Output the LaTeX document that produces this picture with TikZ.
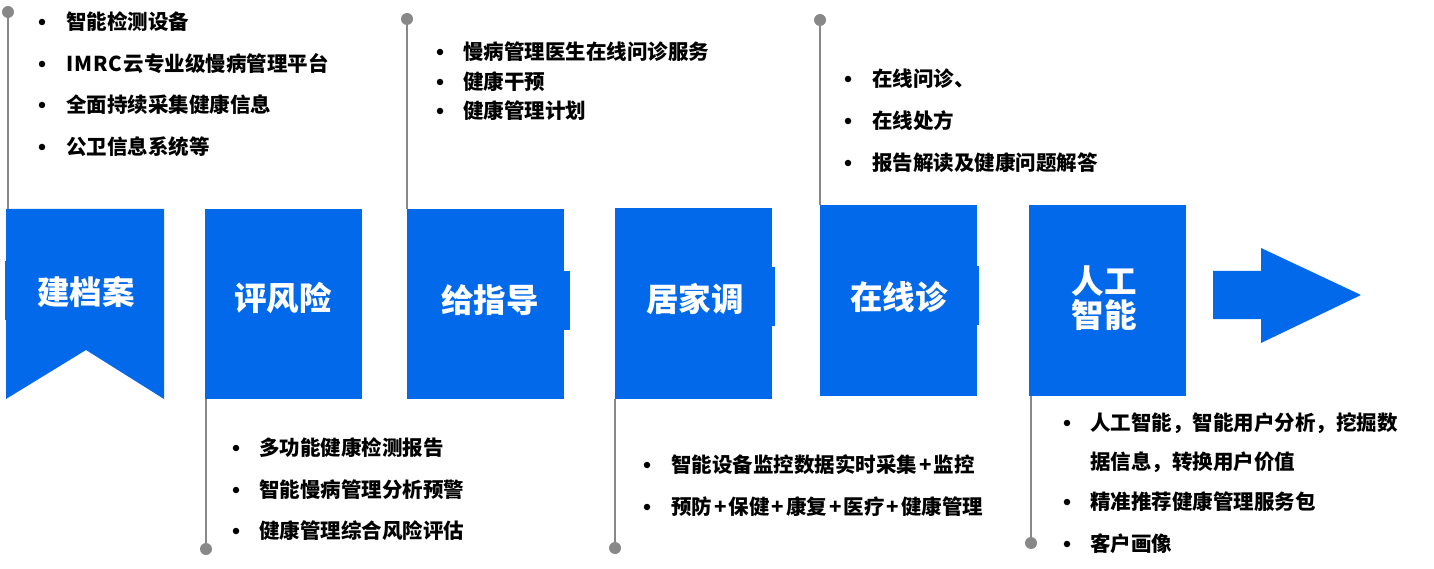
\documentclass[tikz,border=0pt]{standalone}
\usepackage{fontspec}
\setmainfont{Noto Sans CJK SC}
\usetikzlibrary{calc}
\definecolor{mblue}{RGB}{3,105,235}
\definecolor{lgray}{RGB}{136,136,136}
\newcommand{\pls}{\hspace{2pt}+\hspace{2pt}}
\tikzset{
  box/.style={fill=mblue, draw=none, minimum width=157pt, minimum height=190pt, inner sep=0pt},
  boxtext/.style={text=white, font=\fontsize{32.5}{36}\selectfont\bfseries, inner sep=0pt, align=center},
  item/.style={anchor=west, inner sep=0pt, yshift=-3.5pt, text height=0.88em, text depth=0.12em, font=\fontsize{20.5}{24}\selectfont\bfseries},
  bul/.style={fill=black, circle, inner sep=0pt, minimum size=6.5pt},
  dot/.style={fill=lgray, circle, inner sep=0pt, minimum size=12pt},
  conn/.style={draw=lgray, line width=1.8pt},
}
\begin{document}
\begin{tikzpicture}[x=1pt,y=-1pt]
\useasboundingbox (0,0) rectangle (1434,569);
% boxes
\coordinate (b1nw) at (6,209);
\coordinate (b1se) at (164,399);
\fill[mblue] (b1nw) -- (164,209) -- (b1se) -- (86,350) -- (6,399) -- cycle;
\fill[mblue] (4.5,261) rectangle (7,320);
\node[boxtext] (t1) at (86,292) {建档案};
\node[box] (b2) at (283.5,304) {};
\node[boxtext] (t2) at (283,298) {评风险};
\node[box] (b3) at (485.5,304) {};
\fill[mblue] (563,271) rectangle (570,330);
\node[boxtext] (t3) at (490,300) {给指导};
\node[box] (b4) at (693.5,303.5) {};
\fill[mblue] (771,267) rectangle (775,326);
\node[boxtext] (t4) at (695,299) {居家调};
\node[box] (b5) at (898.5,300.5) {};
\fill[mblue] (976,266) rectangle (979,325);
\node[boxtext] (t5) at (899,297) {在线诊};
\node[box] (b6) at (1107.5,300.5) {};
\node[boxtext] (t6) at (1104,298) {人工\\[-2pt]智能};
% arrow
\fill[mblue] (1213,271) -- (1261,271) -- (1261,248) -- (1361,295) -- (1261,343) -- (1261,319) -- (1213,319) -- cycle;
% connectors
\node[dot] (d1) at (8,12) {};
\draw[conn] (d1.center) -- (8,209);
\node[dot] (d2) at (407,19) {};
\draw[conn] (d2.center) -- (d2.center |- b3.north);
\node[dot] (d3) at (206,549) {};
\draw[conn] (d3.center) -- (d3.center |- b2.south);
\node[dot] (d4) at (615,548) {};
\draw[conn] (d4.center) -- (d4.center |- b4.south);
\node[dot] (d5) at (820,20) {};
\draw[conn] (d5.center) -- (d5.center |- b5.north);
\node[dot] (d6) at (1031,543) {};
\draw[conn] (d6.center) -- (d6.center |- b6.south);
% group 1
\node[bul] (u11) at (42,22) {}; \node[item] (i11) at (66,22) {智能检测设备};
\node[bul] (u12) at (42,64) {}; \node[item] (i12) at (66,64) {I\hspace{1pt}M\hspace{1pt}R\hspace{1pt}C\hspace{1pt}云专业级慢病管理平台};
\node[bul] (u13) at (42,105) {}; \node[item] (i13) at (66,105) {全面持续采集健康信息};
\node[bul] (u14) at (42,147) {}; \node[item] (i14) at (66,147) {公卫信息系统等};
% group 2
\node[bul] (u21) at (440,52) {}; \node[item] (i21) at (463,52) {慢病管理医生在线问诊服务};
\node[bul] (u22) at (440,82) {}; \node[item] (i22) at (463,82) {健康干预};
\node[bul] (u23) at (440,111) {}; \node[item] (i23) at (463,111) {健康管理计划};
% group 3
\node[bul] (u31) at (848,79) {}; \node[item] (i31) at (872,79) {在线问诊、};
\node[bul] (u32) at (848,121) {}; \node[item] (i32) at (872,121) {在线处方};
\node[bul] (u33) at (848,163) {}; \node[item] (i33) at (872,163) {报告解读及健康问题解答};
% group 4
\node[bul] (u41) at (236,448) {}; \node[item] (i41) at (259,448) {多功能健康检测报告};
\node[bul] (u42) at (236,490) {}; \node[item] (i42) at (259,490) {智能慢病管理分析预警};
\node[bul] (u43) at (236,531) {}; \node[item] (i43) at (259,531) {健康管理综合风险评估};
% group 5
\node[bul] (u51) at (647,465) {}; \node[item] (i51) at (671,465) {智能设备监控数据实时采集\pls 监控};
\node[bul] (u52) at (647,507) {}; \node[item] (i52) at (671,507) {预防\pls 保健\pls 康复\pls 医疗\pls 健康管理};
% group 6
\node[bul] (u61) at (1067,423) {}; \node[item] (i61) at (1090,423) {人工智能，智能用户分析，挖掘数};
\node[item] (i62) at (1090,462) {据信息，转换用户价值};
\node[bul] (u63) at (1067,502) {}; \node[item] (i63) at (1090,502) {精准推荐健康管理服务包};
\node[bul] (u64) at (1067,544) {}; \node[item] (i64) at (1090,544) {客户画像};
\end{tikzpicture}
\end{document}
